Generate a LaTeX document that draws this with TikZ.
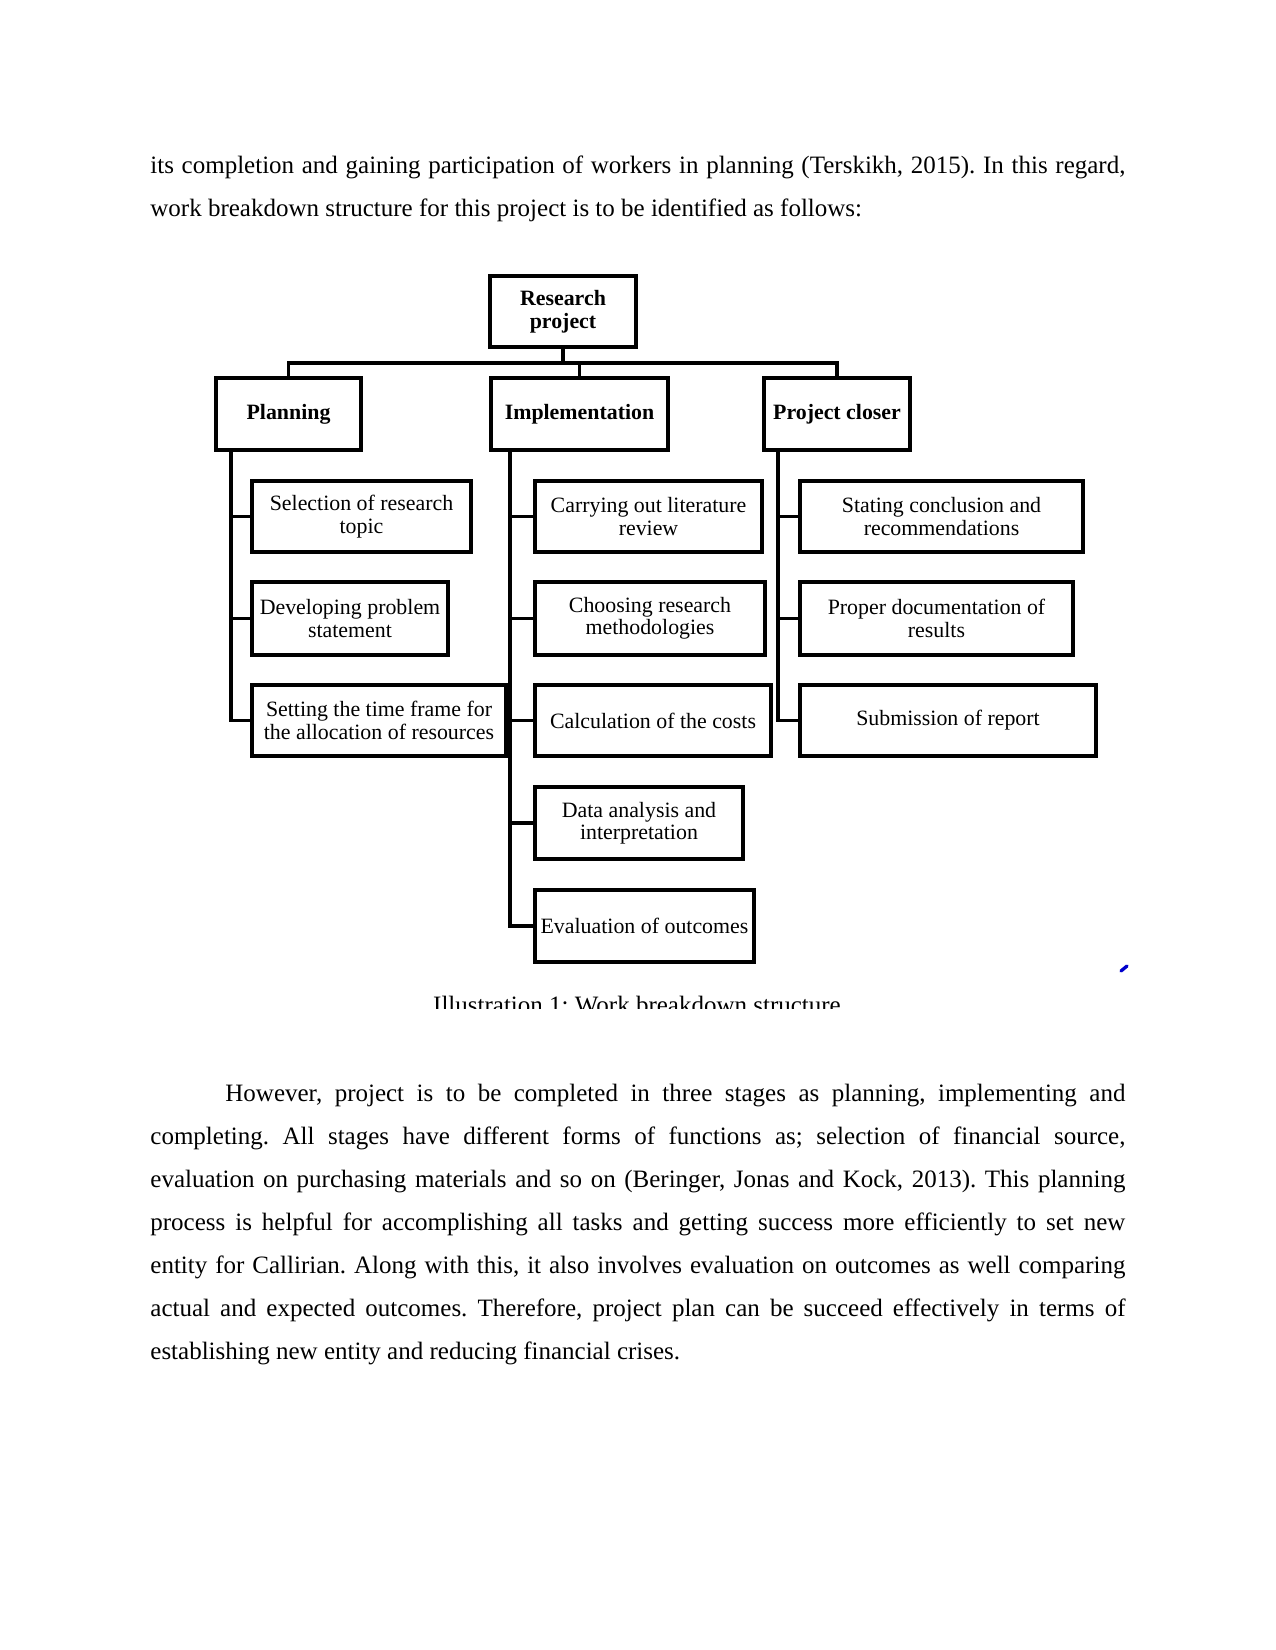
\documentclass[tikz,border=0pt]{standalone}
\usepackage{fontspec}
\setmainfont{Liberation Serif}
\frenchspacing
\begin{document}
\begin{tikzpicture}[x=0.48pt,y=-0.48pt,
  box/.style={draw, line width=1.5pt, inner sep=1pt, align=center, font=\fontsize{10.5}{10.8}\selectfont},
  head/.style={box, font=\bfseries\fontsize{10.5}{10.8}\selectfont},
  conn/.style={line width=1.5pt},
  body/.style={anchor=base west, inner sep=0pt, font=\fontsize{12}{14}\selectfont}]
\useasboundingbox (0,0) rectangle (1275,1650);
\fill[white] (0,0) rectangle (1275,1650);

% body text above
\node[body] (t1) at (150,174) {\makebox[468pt][s]{its completion and gaining participation of workers in planning (Terskikh, 2015). In this regard,}};
\node[body] (t2) at (150,217) {work breakdown structure for this project is to be identified as follows:};

% boxes
\node[head, minimum width=146*0.48pt, minimum height=71*0.48pt] (root) at (563,311.5) {Research\\project};
\node[head, minimum width=145*0.48pt, minimum height=72*0.48pt] (plan) at (288.5,414) {Planning};
\node[head, minimum width=177*0.48pt, minimum height=72*0.48pt] (impl) at (579.5,414) {Implementation};
\node[head, minimum width=146*0.48pt, minimum height=72*0.48pt] (close) at (837,414) {Project closer};

\node[box, minimum width=219*0.48pt, minimum height=71*0.48pt] (sel) at (361.5,516.5) {Selection of research\\topic};
\node[box, minimum width=196*0.48pt, minimum height=73*0.48pt] (dev) at (350,618.5) {Developing problem\\statement};
\node[box, minimum width=254*0.48pt, minimum height=71*0.48pt] (set) at (379,720.5) {Setting the time frame for\\the allocation of resources};

\node[box, minimum width=227*0.48pt, minimum height=71*0.48pt] (car) at (648.5,516.5) {Carrying out literature\\review};
\node[box, minimum width=230*0.48pt, minimum height=73*0.48pt] (cho) at (650,618.5) {Choosing research\\methodologies};
\node[box, minimum width=236*0.48pt, minimum height=71*0.48pt] (calc) at (653,720.5) {Calculation of the costs};
\node[box, minimum width=208*0.48pt, minimum height=72*0.48pt] (data) at (639,823) {Data analysis and\\interpretation};
\node[box, minimum width=219*0.48pt, minimum height=72*0.48pt] (eval) at (644.5,926) {Evaluation of outcomes};

\node[box, minimum width=283*0.48pt, minimum height=71*0.48pt] (stat) at (941.5,516.5) {Stating conclusion and\\recommendations};
\node[box, minimum width=273*0.48pt, minimum height=73*0.48pt] (prop) at (936.5,618.5) {Proper documentation of\\results};
\node[box, minimum width=296*0.48pt, minimum height=71*0.48pt] (sub) at (948,720.5) {Submission of report};

% top connectors
\coordinate (bus) at (0,363);
\draw[conn] (root.south) -- (root.south |- bus);
\draw[conn] (plan.north) -- (plan.north |- bus) -- (close.north |- bus) -- (close.north);
\draw[conn] (impl.north) -- (impl.north |- bus);

% planning spine
\coordinate (ps) at (231,450);
\draw[conn] (ps) |- (set.west);
\draw[conn] (sel.west) -- (sel.west -| ps);
\draw[conn] (dev.west) -- (dev.west -| ps);

% implementation spine
\coordinate (is) at (510,450);
\draw[conn] (is) |- (eval.west);
\draw[conn] (car.west) -- (car.west -| is);
\draw[conn] (cho.west) -- (cho.west -| is);
\draw[conn] (calc.west) -- (calc.west -| is);
\draw[conn] (data.west) -- (data.west -| is);

% closer spine
\coordinate (cs) at (778,450);
\draw[conn] (cs) |- (sub.west);
\draw[conn] (stat.west) -- (stat.west -| cs);
\draw[conn] (prop.west) -- (prop.west -| cs);

% blue mark
\draw[blue!80!black, line width=1.6pt, line cap=round] (1121,971) -- (1127,966);

% clipped caption
\begin{scope}
\clip (0,0) rectangle (1275,1008);
\node[anchor=base, inner sep=0pt, font=\fontsize{12}{14}\selectfont] (cap) at (637,1013) {Illustration 1: Work breakdown structure};
\end{scope}

% body text below
\node[body] (u1) at (225,1101) {\makebox[432pt][s]{However, project is to be completed in three stages as planning, implementing and}};
\node[body] (u2) at (150,1144) {\makebox[468pt][s]{completing. All stages have different forms of functions as; selection of financial source,}};
\node[body] (u3) at (150,1187) {\makebox[468pt][s]{evaluation on purchasing materials and so on (Beringer, Jonas and Kock, 2013). This planning}};
\node[body] (u4) at (150,1230) {\makebox[468pt][s]{process is helpful for accomplishing all tasks and getting success more efficiently to set new}};
\node[body] (u5) at (150,1273) {\makebox[468pt][s]{entity for Callirian. Along with this, it also involves evaluation on outcomes as well comparing}};
\node[body] (u6) at (150,1316) {\makebox[468pt][s]{actual and expected outcomes. Therefore, project plan can be succeed effectively in terms of}};
\node[body] (u7) at (150,1359) {establishing new entity and reducing financial crises.};
\end{tikzpicture}
\end{document}
